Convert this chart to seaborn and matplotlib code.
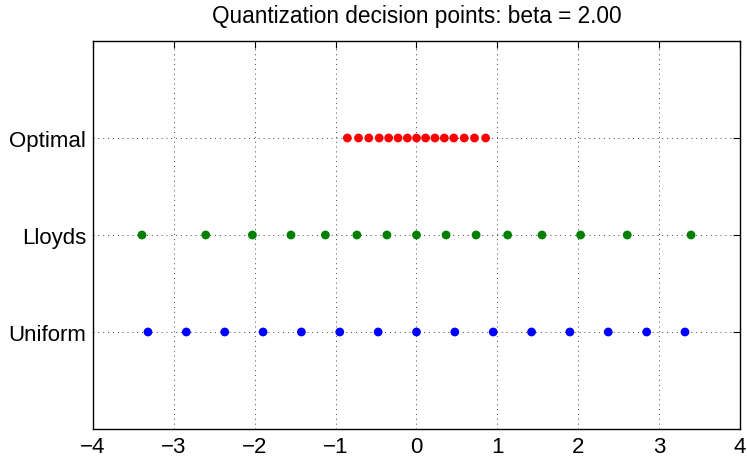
import matplotlib
matplotlib.use("Agg")
import matplotlib.pyplot as plt
import numpy as np
import pandas as pd
import seaborn as sns

# Decision points for each quantizer
uniform_pts = [-3.32, -2.846, -2.371, -1.897, -1.423, -0.949, -0.474, 0.0,
               0.474, 0.949, 1.423, 1.897, 2.371, 2.846, 3.32]
lloyds_pts = [-3.395, -2.606, -2.029, -1.552, -1.127, -0.737, -0.366, 0.0,
              0.366, 0.737, 1.127, 1.552, 2.029, 2.606, 3.395]
optimal_pts = [-0.855, -0.717, -0.590, -0.461, -0.344, -0.228, -0.113, 0.0,
               0.113, 0.228, 0.344, 0.461, 0.590, 0.717, 0.855]

methods = ["Uniform", "Lloyds", "Optimal"]
method_colors = ["#0000ff", "#008000", "#ff0000"]
x_ticks = [-4, -3, -2, -1, 0, 1, 2, 3, 4]
beta = 2.00

rows = []
for level, (name, pts) in enumerate(zip(methods, [uniform_pts, lloyds_pts, optimal_pts]), start=1):
    for p in pts:
        rows.append({"point": p, "level": level, "method": name})
df = pd.DataFrame(rows)

sns.set_style("white")
plt.rcParams["font.family"] = ["Liberation Sans", "DejaVu Sans"]

fig = plt.figure(figsize=(7.47, 4.64), dpi=100)
ax = fig.add_axes([0.1245, 0.0733, 0.8661, 0.8362])

sns.scatterplot(data=df, x="point", y="level", hue="method",
                palette=dict(zip(methods, method_colors)),
                s=40, linewidth=0, legend=False, ax=ax, zorder=3)

ax.set_xlim(-4, 4)
ax.set_ylim(0, 4)
ax.set_xticks(x_ticks)
ax.set_xticklabels([f"{t}".replace("-", "\u2212") for t in x_ticks])
ax.set_yticks([1, 2, 3])
ax.set_yticklabels(methods)
ax.set_xlabel("")
ax.set_ylabel("")

ax.grid(True, linestyle=(0, (1, 4)), color="black", linewidth=0.7, alpha=0.75)
ax.set_axisbelow(True)
ax.tick_params(direction="in", length=5, width=0.8, top=True, right=True,
               labelsize=16, colors="black", pad=5)
for sp in ax.spines.values():
    sp.set_visible(True)
    sp.set_color("black")
    sp.set_linewidth(1.0)

ax.set_title(f"Quantization decision points: beta = {beta:.2f}",
             fontsize=16.3, pad=14, color="black")

fig.savefig("out.png", dpi=100)
